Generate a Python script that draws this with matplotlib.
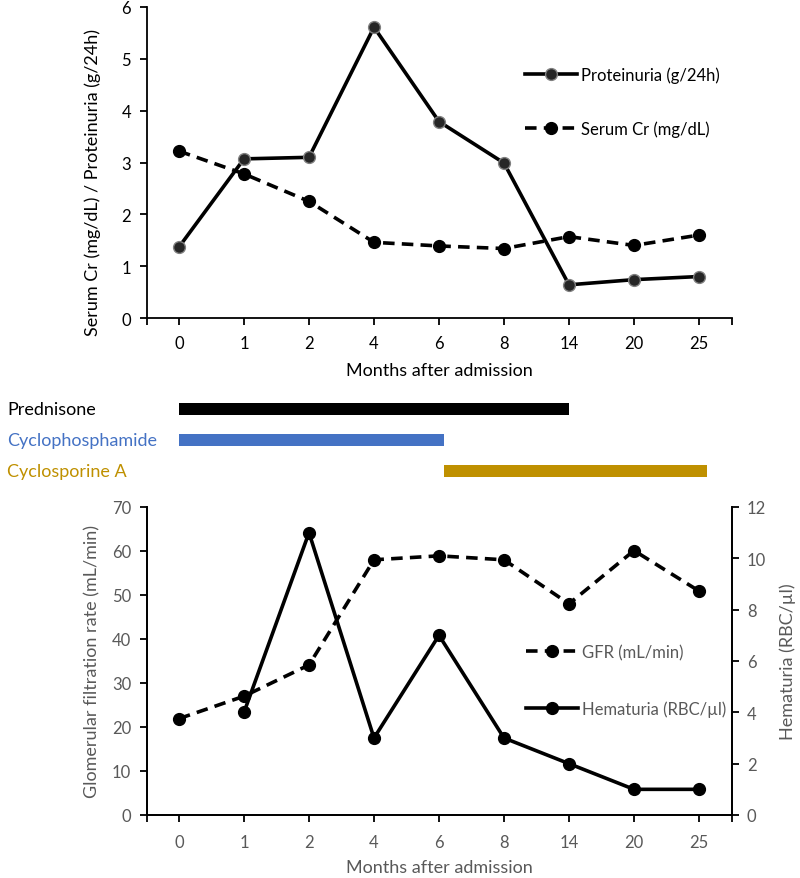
import numpy as np
import matplotlib
matplotlib.use("Agg")
import matplotlib.pyplot as plt
import matplotlib.transforms as mtransforms

plt.rcParams['font.family'] = ['Lato', 'DejaVu Sans']

months = ['0', '1', '2', '4', '6', '8', '14', '20', '25']
proteinuria = [1.37, 3.07, 3.10, 5.61, 3.79, 2.99, 0.64, 0.74, 0.80]
serum_cr = [3.22, 2.78, 2.25, 1.46, 1.39, 1.34, 1.57, 1.40, 1.60]
gfr = [21.9, 27.0, 34.1, 58.0, 58.9, 58.0, 48.0, 60.1, 50.9]
hematuria = [np.nan, 4, 11, 3, 7, 3, 2, 1, 1]

treatments = ['Prednisone', 'Cyclophosphamide', 'Cyclosporine A']
treat_start = [0.0, 0.0, 4.08]   # in category-index units
treat_end = [6.0, 4.07, 8.13]
treat_colors = ['#000000', '#4472C4', '#BF9000']

W, H = 800, 879
fig = plt.figure(figsize=(W / 100, H / 100), dpi=100)

def rect(l, t, r, b):
    return [l / W, 1 - b / H, (r - l) / W, (b - t) / H]

x = np.arange(len(months))
lw = 2.6
ms = 8.5

# ---------- top chart ----------
ax1 = fig.add_axes(rect(146.5, 8, 731.5, 319))
ax1.plot(x, proteinuria, '-', color='black', lw=lw, marker='o', ms=ms,
         mfc='#262626', mec='#808080', mew=1.0, label='Proteinuria (g/24h)')
ax1.plot(x, serum_cr, '--', color='black', lw=lw, dashes=(3.2, 2.0), marker='o', ms=ms,
         mfc='black', mec='black', label='Serum Cr (mg/dL)')
ax1.set_xlim(-0.5, len(months) - 0.5)
ax1.set_ylim(0, 6)
ax1.set_xticks(x)
ax1.set_xticklabels(months)
ax1.set_xticks([-0.5, len(months) - 0.5], minor=True)
ax1.set_yticks(range(0, 7))
for s in ['top', 'right']:
    ax1.spines[s].set_visible(False)
for s in ['left', 'bottom']:
    ax1.spines[s].set_linewidth(1.3)
ax1.tick_params(axis='both', which='both', direction='out', length=5, width=1.3,
                labelsize=12, colors='black', pad=6)
ax1.tick_params(axis='x', pad=7)
ax1.set_xlabel('Months after admission', fontsize=13, color='black', labelpad=8)
ax1.set_ylabel('Serum Cr (mg/dL) / Proteinuria (g/24h)', fontsize=13, color='black')
ax1.yaxis.set_label_coords(-0.077, 0.44)
leg1 = ax1.legend(loc='upper left', bbox_to_anchor=(510 / W, 1 - 52 / H),
                  bbox_transform=fig.transFigure, frameon=False, fontsize=12,
                  handlelength=3.1, labelspacing=2.25, handletextpad=0.25)

# ---------- treatment bars ----------
axm = fig.add_axes(rect(146.5, 394.5, 731.5, 487.5))
axm.set_xlim(-0.5, len(months) - 0.5)
axm.set_ylim(len(treatments) - 0.5, -0.5)
for i, (t, s0, e0, c) in enumerate(zip(treatments, treat_start, treat_end, treat_colors)):
    axm.barh(i, e0 - s0, left=s0, height=0.38, color=c)
trans = mtransforms.blended_transform_factory(fig.transFigure, axm.transData)
for i, (t, c) in enumerate(zip(treatments, treat_colors)):
    axm.text(7 / W, i, t, transform=trans, ha='left', va='center', fontsize=13, color=c)
axm.axis('off')

# ---------- bottom chart ----------
ax2 = fig.add_axes(rect(146.5, 508, 731.5, 816))
ax3 = ax2.twinx()
gray = '#595959'
l_gfr, = ax2.plot(x, gfr, '--', color='black', lw=lw, dashes=(3.2, 2.0), marker='o', ms=ms,
                  mfc='black', mec='black', label='GFR (mL/min)')
l_hem, = ax3.plot(x, hematuria, '-', color='black', lw=lw, marker='o', ms=ms,
                  mfc='black', mec='black', label='Hematuria (RBC/µl)')
ax2.set_xlim(-0.5, len(months) - 0.5)
ax2.set_ylim(0, 70)
ax3.set_ylim(0, 12)
ax2.set_yticks(range(0, 71, 10))
ax3.set_yticks(range(0, 13, 2))
ax2.set_xticks(x)
ax2.set_xticklabels(months)
ax2.set_xticks([-0.5, len(months) - 0.5], minor=True)
ax2.spines['top'].set_visible(False)
ax3.spines['top'].set_visible(False)
for a in (ax2, ax3):
    for s in ['left', 'bottom', 'right']:
        a.spines[s].set_linewidth(1.3)
ax2.tick_params(axis='both', which='both', direction='out', length=5, width=1.3,
                labelsize=12, labelcolor=gray, color='black', pad=6)
ax2.tick_params(axis='x', pad=9)
ax3.tick_params(axis='y', direction='out', length=5, width=1.3,
                labelsize=12, labelcolor=gray, color='black', pad=6)
ax2.set_xlabel('Months after admission', fontsize=13, color=gray, labelpad=6)
ax2.set_ylabel('Glomerular filtration rate (mL/min)', fontsize=13, color=gray, labelpad=8)
ax3.set_ylabel('Hematuria (RBC/µl)', fontsize=13, color=gray, labelpad=10)
leg2 = ax3.legend(handles=[l_gfr, l_hem], loc='upper left',
                  bbox_to_anchor=(511 / W, 1 - 630 / H), bbox_transform=fig.transFigure,
                  frameon=False, fontsize=12, handlelength=3.1, labelspacing=2.4,
                  handletextpad=0.25)
for t in leg2.get_texts():
    t.set_color(gray)

fig.savefig('out.png', dpi=100)
